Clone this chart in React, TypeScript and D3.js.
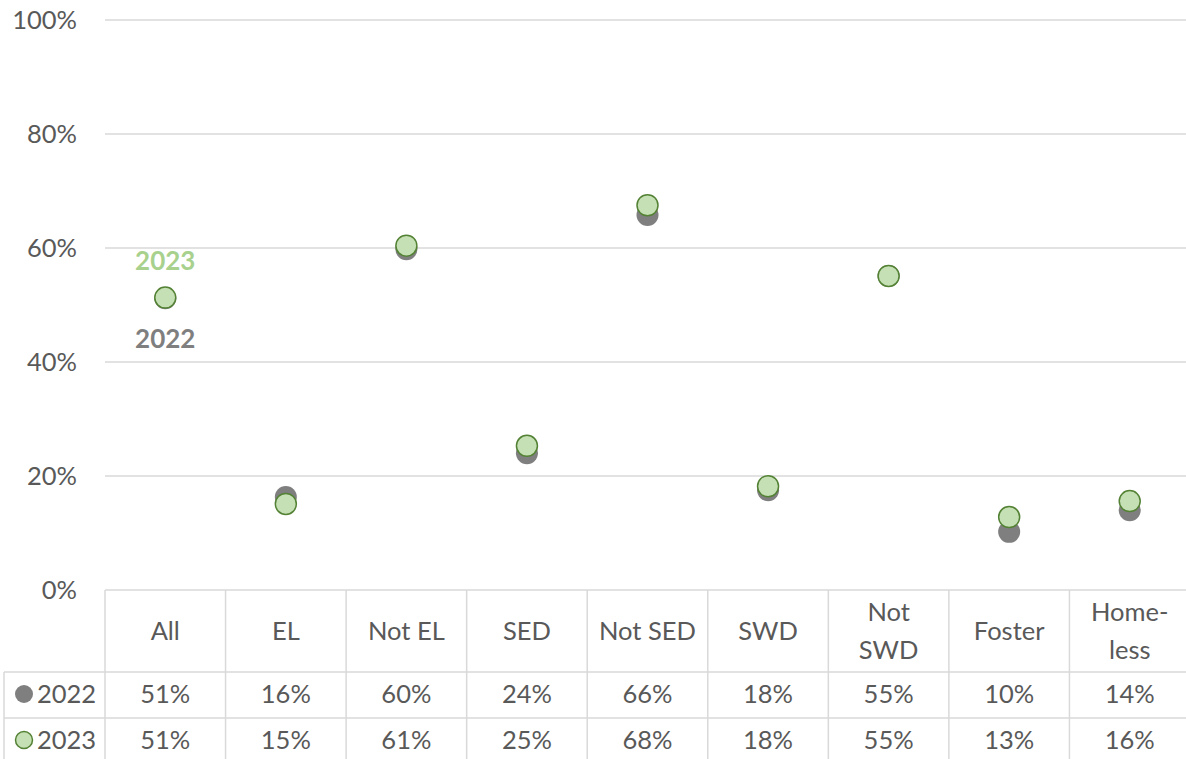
import { useEffect, useRef } from "react";
import * as d3 from "d3";

const categories = [["All"], ["EL"], ["Not EL"], ["SED"], ["Not SED"], ["SWD"], ["Not", "SWD"], ["Foster"], ["Home-", "less"]];
const values2022 = [51.2, 16.3, 59.8, 24.0, 65.8, 17.5, 55.1, 10.2, 14.0];
const values2023 = [51.3, 15.1, 60.4, 25.3, 67.5, 18.2, 55.1, 12.8, 15.6];
const labels2022 = ["51%", "16%", "60%", "24%", "66%", "18%", "55%", "10%", "14%"];
const labels2023 = ["51%", "15%", "61%", "25%", "68%", "18%", "55%", "13%", "16%"];
const yTicks = [0, 20, 40, 60, 80, 100];

const W = 1186;
const H = 759;
const FONT = "Lato, 'Open Sans', sans-serif";
const FS = "25.5px";
const TEXT = "#595959";
const GRID = "#d9d9d9";
const GRAY = "#7f7f7f";
const GREEN_FILL = "#c5e0b4";
const GREEN_STROKE = "#548235";

const App = () => {
  const ref = useRef<SVGSVGElement>(null);

  useEffect(() => {
    const svg = d3.select(ref.current);
    svg.selectAll("*").remove();

    const left = 105;
    const right = 1190;
    const x = d3
      .scaleBand()
      .domain(categories.map((_, i) => String(i)))
      .range([left, right]);
    const y = d3.scaleLinear().domain([0, 100]).range([590, 20]);

    // gridlines + y labels
    svg
      .selectAll("line.grid")
      .data(yTicks.filter((t) => t > 0))
      .enter()
      .append("line")
      .attr("x1", left)
      .attr("x2", right)
      .attr("y1", (d) => y(d))
      .attr("y2", (d) => y(d))
      .attr("stroke", GRID)
      .attr("stroke-width", 1.5);

    svg
      .selectAll("text.ytick")
      .data(yTicks)
      .enter()
      .append("text")
      .attr("x", 77)
      .attr("y", (d) => y(d) + 9)
      .attr("text-anchor", "end")
      .style("font-family", FONT)
      .style("font-size", FS)
      .attr("fill", TEXT)
      .text((d) => d + "%");

    // table
    const rowTop = 590;
    const row1 = 672;
    const row2 = 718;
    const rowBottom = 762;
    const tbl = svg.append("g").attr("stroke", GRID).attr("stroke-width", 1.5);
    tbl.append("line").attr("x1", left).attr("x2", right).attr("y1", rowTop).attr("y2", rowTop);
    [row1, row2].forEach((r) =>
      tbl.append("line").attr("x1", 4).attr("x2", right).attr("y1", r).attr("y2", r)
    );
    tbl.append("line").attr("x1", 4).attr("x2", 4).attr("y1", row1).attr("y2", rowBottom);
    d3.range(categories.length + 1).forEach((i) => {
      const xx = left + i * x.bandwidth();
      tbl.append("line").attr("x1", xx).attr("x2", xx).attr("y1", rowTop).attr("y2", rowBottom);
    });

    const cx = (i: number) => (x(String(i)) as number) + x.bandwidth() / 2;

    categories.forEach((lines, i) => {
      const t = svg
        .append("text")
        .attr("text-anchor", "middle")
        .style("font-family", FONT)
        .style("font-size", FS)
        .attr("fill", TEXT);
      const startY = lines.length === 1 ? 640 : 621;
      lines.forEach((l, j) => {
        t.append("tspan").attr("x", cx(i)).attr("y", startY + j * 38).text(l);
      });
    });

    const rowText = (labels: string[], yy: number) =>
      svg
        .selectAll(null)
        .data(labels)
        .enter()
        .append("text")
        .attr("x", (_, i) => cx(i))
        .attr("y", yy)
        .attr("text-anchor", "middle")
        .style("font-family", FONT)
        .style("font-size", FS)
        .attr("fill", TEXT)
        .text((d) => d);
    rowText(labels2022, 703);
    rowText(labels2023, 749);

    // legend keys in table
    svg.append("circle").attr("cx", 24).attr("cy", 694).attr("r", 9).attr("fill", GRAY);
    svg
      .append("circle")
      .attr("cx", 24)
      .attr("cy", 740)
      .attr("r", 8.5)
      .attr("fill", GREEN_FILL)
      .attr("stroke", GREEN_STROKE)
      .attr("stroke-width", 1.5);
    [["2022", 703], ["2023", 749]].forEach(([t, yy]) =>
      svg
        .append("text")
        .attr("x", 37)
        .attr("y", yy as number)
        .style("font-family", FONT)
        .style("font-size", FS)
        .attr("fill", TEXT)
        .text(t as string)
    );

    // points
    svg
      .selectAll("circle.s2022")
      .data(values2022)
      .enter()
      .append("circle")
      .attr("cx", (_, i) => cx(i))
      .attr("cy", (d) => y(d))
      .attr("r", 11)
      .attr("fill", GRAY);

    svg
      .selectAll("circle.s2023")
      .data(values2023)
      .enter()
      .append("circle")
      .attr("cx", (_, i) => cx(i))
      .attr("cy", (d) => y(d))
      .attr("r", 10.5)
      .attr("fill", GREEN_FILL)
      .attr("stroke", GREEN_STROKE)
      .attr("stroke-width", 1.5);

    // series labels on the "All" point
    svg
      .append("text")
      .attr("x", cx(0))
      .attr("y", 270)
      .attr("text-anchor", "middle")
      .style("font-family", FONT)
      .style("font-size", "26px")
      .style("font-weight", "bold")
      .attr("fill", "#a9d18e")
      .text("2023");
    svg
      .append("text")
      .attr("x", cx(0))
      .attr("y", 348)
      .attr("text-anchor", "middle")
      .style("font-family", FONT)
      .style("font-size", "26px")
      .style("font-weight", "bold")
      .attr("fill", GRAY)
      .text("2022");
  }, []);

  return (
    <div style={{ position: "fixed", left: 0, top: 0, background: "#fff" }}>
      <svg ref={ref} width={W} height={H} />
    </div>
  );
};

export default App;
